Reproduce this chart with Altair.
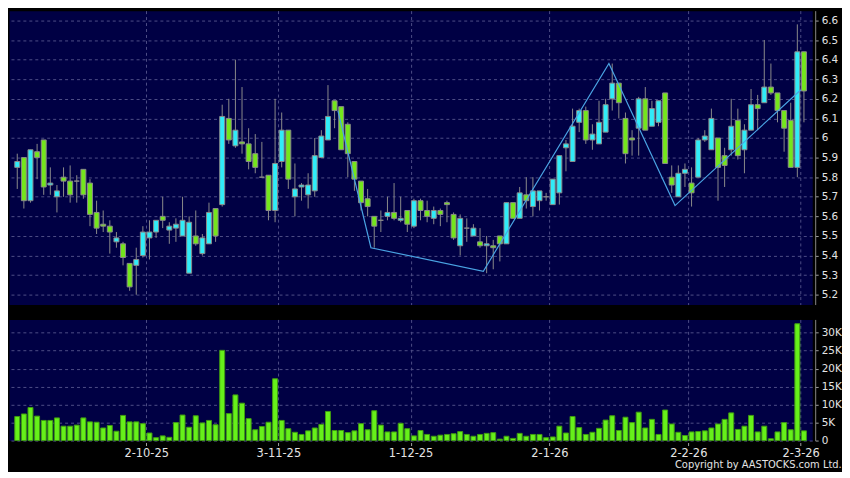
import altair as alt
import pandas as pd

# ---- daily candles (bar index 0..119) ----
opens = [5.85, 5.90, 5.68, 5.93, 5.99, 5.76, 5.70, 5.80, 5.78, 5.78,
         5.84, 5.77, 5.62, 5.56, 5.55, 5.47, 5.46, 5.36, 5.35, 5.40,
         5.49, 5.52, 5.60, 5.53, 5.54, 5.50, 5.31, 5.50, 5.41, 5.46,
         5.64, 5.66, 6.10, 5.96, 5.98, 5.97, 5.92, 5.80, 5.81, 5.63,
         5.88, 6.04, 5.70, 5.75, 5.71, 5.73, 5.90, 5.99, 6.19, 6.16,
         6.07, 5.88, 5.78, 5.69, 5.60, 5.58, 5.60, 5.62, 5.58, 5.63,
         5.55, 5.68, 5.63, 5.59, 5.63, 5.67, 5.61, 5.45, 5.54, 5.50,
         5.47, 5.45, 5.45, 5.50, 5.46, 5.67, 5.59, 5.71, 5.65, 5.68,
         5.70, 5.66, 5.72, 5.95, 5.88, 6.08, 6.14, 5.99, 5.97, 6.03,
         6.20, 6.28, 6.10, 6.00, 6.05, 6.20, 6.06, 6.08, 6.23, 5.80,
         5.70, 5.82, 5.77, 5.80, 5.99, 5.94, 6.00, 5.91, 5.94, 6.09,
         5.94, 6.04, 6.17, 6.18, 6.26, 6.23, 6.14, 6.09, 5.85, 6.44]
highs = [5.92, 5.90, 5.94, 5.97, 5.99, 5.85, 5.76, 5.85, 5.86, 5.81,
         5.84, 5.79, 5.68, 5.63, 5.58, 5.52, 5.47, 5.36, 5.44, 5.55,
         5.58, 5.58, 5.70, 5.57, 5.59, 5.70, 5.60, 5.63, 5.51, 5.67,
         5.64, 6.17, 6.20, 6.40, 6.26, 6.05, 6.02, 5.98, 5.81, 6.20,
         6.13, 6.04, 5.87, 5.77, 5.82, 6.00, 6.04, 6.27, 6.19, 6.16,
         6.08, 5.88, 5.78, 5.74, 5.60, 5.63, 5.70, 5.77, 5.70, 5.63,
         5.69, 5.69, 5.68, 5.65, 5.64, 5.68, 5.62, 5.61, 5.59, 5.56,
         5.54, 5.50, 5.48, 5.50, 5.67, 5.67, 5.75, 5.80, 5.80, 5.73,
         5.72, 5.79, 5.91, 5.99, 6.15, 6.15, 6.16, 6.07, 6.19, 6.20,
         6.38, 6.28, 6.13, 6.04, 6.21, 6.26, 6.19, 6.19, 6.23, 5.86,
         5.86, 5.87, 5.85, 6.00, 6.04, 6.15, 6.00, 5.95, 6.20, 6.15,
         6.07, 6.25, 6.22, 6.50, 6.38, 6.23, 6.14, 6.18, 6.58, 6.44]
lows = [5.74, 5.64, 5.67, 5.79, 5.71, 5.71, 5.62, 5.70, 5.67, 5.67,
        5.69, 5.55, 5.51, 5.52, 5.41, 5.44, 5.35, 5.22, 5.20, 5.39,
        5.38, 5.49, 5.54, 5.46, 5.47, 5.50, 5.31, 5.45, 5.40, 5.46,
        5.47, 5.65, 5.97, 5.95, 5.92, 5.84, 5.82, 5.80, 5.58, 5.57,
        5.85, 5.74, 5.60, 5.68, 5.64, 5.70, 5.90, 5.99, 6.05, 5.94,
        5.80, 5.73, 5.63, 5.60, 5.44, 5.52, 5.58, 5.58, 5.57, 5.52,
        5.54, 5.58, 5.57, 5.56, 5.55, 5.57, 5.48, 5.40, 5.47, 5.50,
        5.44, 5.31, 5.33, 5.37, 5.46, 5.59, 5.59, 5.64, 5.60, 5.63,
        5.68, 5.66, 5.66, 5.83, 5.88, 6.03, 5.97, 5.94, 5.97, 6.03,
        6.14, 6.10, 5.87, 5.91, 5.91, 6.04, 6.06, 6.06, 5.87, 5.72,
        5.70, 5.75, 5.65, 5.80, 5.98, 5.94, 5.68, 5.75, 5.91, 5.89,
        5.82, 6.04, 6.04, 6.18, 6.22, 6.08, 5.93, 5.85, 5.80, 6.08]
closes = [5.88, 5.68, 5.94, 5.90, 5.75, 5.77, 5.73, 5.78, 5.71, 5.78,
          5.71, 5.61, 5.54, 5.55, 5.52, 5.49, 5.39, 5.24, 5.38, 5.52,
          5.52, 5.58, 5.58, 5.55, 5.56, 5.58, 5.57, 5.46, 5.49, 5.62,
          5.50, 6.11, 5.99, 6.04, 5.97, 5.88, 5.85, 5.80, 5.63, 5.87,
          6.04, 5.79, 5.74, 5.76, 5.76, 5.91, 6.01, 6.11, 6.14, 5.94,
          5.92, 5.79, 5.67, 5.65, 5.55, 5.58, 5.62, 5.59, 5.59, 5.56,
          5.68, 5.63, 5.60, 5.63, 5.61, 5.66, 5.49, 5.59, 5.54, 5.54,
          5.45, 5.46, 5.44, 5.46, 5.67, 5.59, 5.72, 5.68, 5.73, 5.73,
          5.70, 5.79, 5.91, 5.97, 6.06, 6.14, 5.99, 6.02, 6.08, 6.17,
          6.28, 6.18, 5.92, 5.99, 6.20, 6.04, 6.15, 6.19, 5.87, 5.76,
          5.82, 5.84, 5.72, 5.99, 6.01, 6.10, 5.85, 5.86, 6.06, 5.91,
          6.04, 6.17, 6.15, 6.26, 6.23, 6.14, 6.05, 5.85, 6.44, 6.24]
# volume in thousands of shares
volumes = [6.7, 7.4, 9.2, 6.8, 5.6, 5.6, 6.3, 4.0, 4.0, 4.3,
           6.3, 5.2, 5.1, 3.5, 4.2, 2.6, 7.0, 5.2, 5.2, 4.7,
           2.1, 0.8, 1.3, 0.9, 5.0, 7.1, 3.7, 6.9, 4.9, 5.6,
           4.4, 25.1, 7.5, 12.7, 10.4, 6.1, 3.0, 3.9, 5.1, 17.2,
           5.6, 3.3, 2.3, 1.7, 2.7, 3.5, 4.5, 8.1, 2.8, 2.8,
           2.2, 2.7, 4.7, 3.0, 8.3, 4.3, 2.4, 2.4, 4.8, 3.3,
           1.3, 2.8, 1.7, 1.2, 1.5, 1.7, 1.9, 2.5, 1.7, 1.2,
           1.7, 2.0, 2.2, 0.4, 1.2, 0.6, 2.0, 1.2, 1.7, 1.7,
           0.8, 1.0, 4.0, 2.1, 6.7, 3.6, 1.7, 2.3, 3.4, 5.7,
           6.9, 2.8, 6.5, 5.0, 7.9, 3.5, 5.9, 1.7, 8.5, 4.6,
           2.3, 1.4, 2.4, 2.5, 2.7, 3.5, 4.6, 5.9, 7.7, 3.1,
           4.0, 7.0, 2.4, 4.0, 0.5, 2.4, 5.0, 3.0, 32.5, 2.7]

# month-start ticks (bar index of first trading day) and labels
date_bar_index = [20, 40, 60, 81, 102, 119]
date_labels = ["2-10-25", "3-11-25", "1-12-25", "2-1-26", "2-2-26", "2-3-26"]

price_ticks = [5.2, 5.3, 5.4, 5.5, 5.6, 5.7, 5.8, 5.9, 6.0, 6.1, 6.2, 6.3, 6.4, 6.5, 6.6]
volume_ticks = [0, 5, 10, 15, 20, 25, 30]

# zig-zag overlay (bar index of vertex, price)
zz_bar = [49, 54, 71, 90, 100, 119]
zz_price = [6.14, 5.44, 5.32, 6.38, 5.655, 6.245]

# ---- styling ----
NAVY = "#000044"
CYAN = "#30ecf8"
GREEN = "#74e61c"
VGREEN = "#66f01a"
OUTLINE = "#8a8a8a"
GRID = "#4e4e86"
TEXT = "#e4e4e4"
ZZ = "#4aa4e4"

n = len(opens)
df = pd.DataFrame({
    "i": list(range(n)), "open": opens, "high": highs, "low": lows,
    "close": closes, "vol": volumes,
})
df["dir"] = ["up" if c > o else "down" for o, c in zip(opens, closes)]
zz = pd.DataFrame({"pos": [b - 0.5 for b in zz_bar], "price": zz_price})

grid_x = [b - 0.5 for b in date_bar_index]
label_expr = " : ".join(
    f"abs(datum.value - {g}) < 0.01 ? '{t}'" for g, t in zip(grid_x, date_labels)
) + " : ''"

W = 809
xscale = alt.Scale(domain=[-0.5, n - 0.5], nice=False, zero=False)
pscale = alt.Scale(domain=[5.15, 6.65], nice=False, zero=False)

x_axis_top = alt.Axis(values=grid_x, labels=False, ticks=False, domain=False,
                      grid=True, title=None)
y_axis_price = alt.Axis(orient="right", values=price_ticks, format=".1~f", grid=True,
                        title=None, offset=3, tickSize=3, labelPadding=3,
                        labelOverlap=False, labelFontSize=10.5)

base = alt.Chart(df)

wicks = base.mark_rule(color=OUTLINE, strokeWidth=1).encode(
    x=alt.X("i:Q", scale=xscale, axis=x_axis_top),
    y=alt.Y("low:Q", scale=pscale, axis=y_axis_price),
    y2="high:Q",
)
bodies = base.mark_bar(size=5, stroke=OUTLINE, strokeWidth=1).encode(
    x=alt.X("i:Q", scale=xscale, axis=x_axis_top),
    y=alt.Y("open:Q", scale=pscale, axis=y_axis_price),
    y2="close:Q",
    color=alt.Color("dir:N", scale=alt.Scale(domain=["up", "down"], range=[CYAN, GREEN]),
                    legend=None),
)
zigzag = alt.Chart(zz).mark_line(color=ZZ, strokeWidth=1.2).encode(
    x=alt.X("pos:Q", scale=xscale, axis=x_axis_top),
    y=alt.Y("price:Q", scale=pscale, axis=y_axis_price),
)
price = alt.layer(wicks, bodies, zigzag).properties(width=W, height=296)

vol = base.mark_bar(size=5, color=VGREEN, stroke="#3f9a12", strokeWidth=1).encode(
    x=alt.X("i:Q", scale=xscale,
            axis=alt.Axis(values=grid_x, labelExpr=label_expr, grid=True, domain=False,
                          title=None, offset=2, tickSize=3, labelPadding=2,
                          labelOverlap=False, labelFontSize=11.5)),
    y=alt.Y("vol:Q", scale=alt.Scale(domain=[0, 33.7], nice=False),
            axis=alt.Axis(orient="right", values=volume_ticks, grid=True, title=None,
                          labelExpr="datum.value == 0 ? '0' : datum.value + 'K'",
                          offset=3, tickSize=3, labelPadding=3, labelOverlap=False,
                          labelFontSize=10.5)),
).properties(width=W, height=122)

chart = alt.vconcat(price, vol, spacing=13).properties(
    title=alt.TitleParams("Copyright by AASTOCKS.com Ltd.", orient="bottom", anchor="end",
                          fontSize=10, color=TEXT, font="DejaVu Sans",
                          fontWeight="normal", offset=1),
).configure(background="#000000", padding=0).configure_view(
    fill=NAVY, stroke="transparent"
).configure_axis(
    labelFont="DejaVu Sans", labelFontSize=11, labelColor=TEXT, tickColor="#a0a0a0",
    gridColor=GRID, gridDash=[3, 3], gridWidth=1, gridOpacity=1,
)

chart.save("out.html", embed_options={"renderer": "svg", "actions": False})
